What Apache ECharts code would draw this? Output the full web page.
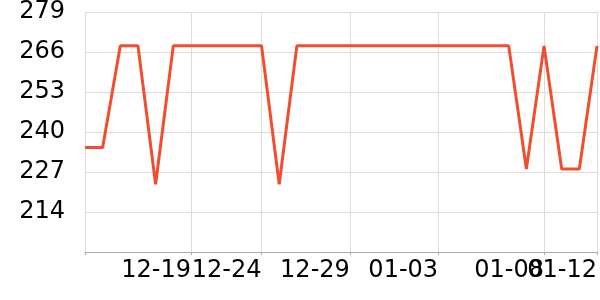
<!DOCTYPE html>
<html>
<head>
<meta charset="utf-8">
<script src="https://cdn.jsdelivr.net/npm/echarts@6/dist/echarts.min.js"></script>
<style>html,body{margin:0;padding:0;background:#fff}#c{width:600px;height:300px}</style>
</head>
<body>
<div id="c"></div>
<script>
var categories = ['12-12 09:00','12-13 09:00','12-14 09:00','12-15 09:00','12-16 09:00','12-18 09:00','12-19 09:00','12-20 09:00','12-22 09:00','12-23 09:00','12-24 09:00','12-25 09:00','12-26 09:00','12-27 09:00','12-28 09:00','12-29 09:00','12-30 09:00','12-31 09:00','01-01 09:00','01-02 09:00','01-03 09:00','01-04 09:00','01-05 09:00','01-06 09:00','01-07 09:00','01-07 21:00','01-08 09:00','01-09 09:00','01-11 09:00','01-12 09:00'];
var values = [235,235,268,268,223,268,268,268,268,268,268,223,268,268,268,268,268,268,268,268,268,268,268,268,268,228,268,228,228,268];
var labelIndices = [6,10,15,20,26,29];
var tickIndices = [0,6,10,15,20,26,29];
var yMin = 201, yMax = 279, yInterval = 13;

var chart = echarts.init(document.getElementById('c'), null, {renderer:'canvas'});
chart.setOption({
  animation:false,
  grid:{left:85,right:3,top:10,bottom:48},
  xAxis:{
    type:'category',
    data:categories,
    boundaryGap:false,
    axisLine:{lineStyle:{color:'#aaaaaa',width:1}},
    axisTick:{show:true,length:3,lineStyle:{color:'#aaaaaa'},interval:function(i){return tickIndices.indexOf(i)>=0;}},
    splitLine:{show:true,lineStyle:{color:'#dddddd',width:1},interval:function(i){return tickIndices.indexOf(i)>=0;}},
    axisLabel:{
      interval:0,
      formatter:function(v,i){return labelIndices.indexOf(i)>=0 ? v.slice(0,5) : '';},
      align:'right',
      margin:7,
      color:'#000',
      fontFamily:'DejaVu Sans',
      fontSize:24
    }
  },
  yAxis:{
    type:'value',
    min:yMin,max:yMax,interval:yInterval,
    axisLine:{show:false},
    axisTick:{show:false},
    splitLine:{lineStyle:{color:'#dddddd',width:1}},
    axisLabel:{showMinLabel:false,margin:20,color:'#000',fontFamily:'DejaVu Sans',fontSize:24}
  },
  series:[{
    type:'line',
    data:values,
    showSymbol:false,
    symbol:'none',
    lineStyle:{color:'#f04e2f',width:3}
  }]
});
</script>
</body>
</html>
